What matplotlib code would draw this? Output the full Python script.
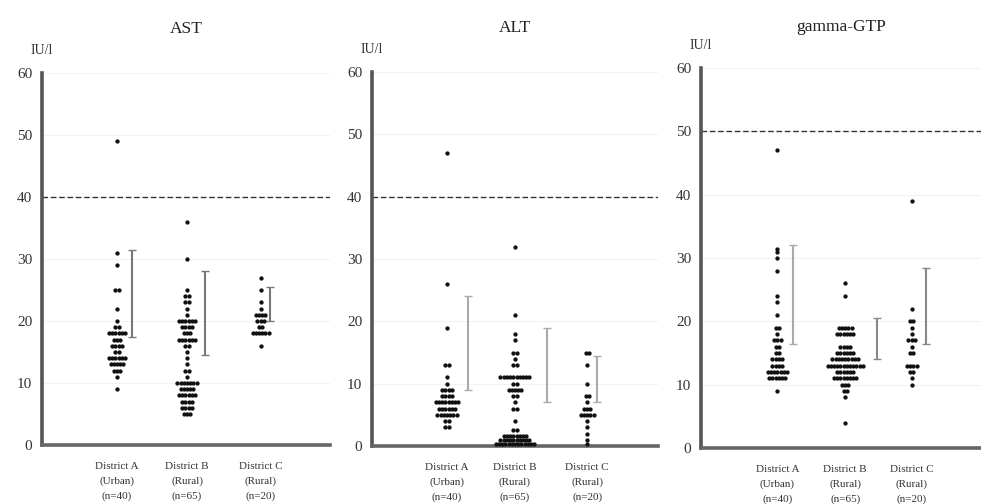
import numpy as np
import matplotlib
matplotlib.use("Agg")
import matplotlib.pyplot as plt
from collections import Counter

plt.rcParams['font.family'] = ['Liberation Serif', 'DejaVu Serif']

groups = ["District A\n(Urban)\n(n=40)", "District B\n(Rural)\n(n=65)", "District C\n(Rural)\n(n=20)"]
titles = ["AST", "ALT", "gamma-GTP"]
unit_label = "IU/l"
yticks = [0, 10, 20, 30, 40, 50, 60]
ref_lines = [40, 40, 50]

ast_a = [49, 31, 29, 25, 25, 22, 20, 19, 19] + [18]*6 + [17]*3 + [16]*4 + [15]*2 + [14]*6 + [13]*5 + [12]*3 + [11, 9]
ast_b = [36, 30, 25, 24, 24, 23, 23, 22, 21] + [20]*6 + [19]*4 + [18]*3 + [17]*6 + [16]*2 + [15, 14, 13, 12, 12, 11] + [10]*7 + [9]*5 + [8]*6 + [7]*4 + [6]*4 + [5]*3
ast_c = [27, 25, 23, 22] + [21]*4 + [20]*3 + [19]*2 + [18]*6 + [16]

alt_a = [47, 26, 19, 13, 13, 11, 10] + [9]*4 + [8]*4 + [7]*8 + [6]*6 + [5]*7 + [4, 4, 3, 3]
alt_b = [32, 21, 18, 17, 15, 15, 14, 13, 13] + [11]*10 + [10]*2 + [9]*5 + [8]*2 + [7] + [6]*2 + [4] + [2.5]*2 + [1.6]*8 + [0.9]*10 + [0.3]*13
alt_c = [15, 15, 13, 10, 8, 8, 7] + [6]*3 + [5]*5 + [4, 3, 2, 1, 0.3]

gtp_a = [47, 31.5, 31, 30, 28, 24, 23, 21, 19, 19, 18] + [17]*3 + [16]*2 + [15]*2 + [14]*4 + [13]*4 + [12]*7 + [11]*6 + [9]
gtp_b = [26, 24] + [19]*5 + [18]*6 + [16]*4 + [15]*6 + [14]*9 + [13]*12 + [12]*6 + [11]*8 + [10]*3 + [9]*2 + [8, 4]
gtp_c = [39, 22, 20, 20, 19, 18, 17, 17, 17, 16, 15, 15, 13, 13, 13, 13, 12, 12, 11, 10]

ast_bars = [(17.5, 31.5), (14.5, 28), (20, 25.5)]
alt_bars = [(9, 24), (7, 19), (7, 14.5)]
gtp_bars = [(16.5, 32), (14, 20.5), (16.5, 28.5)]

panels = [
    ([ast_a, ast_b, ast_c], ast_bars),
    ([alt_a, alt_b, alt_c], alt_bars),
    ([gtp_a, gtp_b, gtp_c], gtp_bars),
]

# layout (figure fractions) and per-panel geometry
rects = [
    [0.0428, 0.117, 0.2936, 0.738],
    [0.3792, 0.115, 0.2915, 0.742],
    [0.7146, 0.111, 0.2854, 0.754],
]
xlims = [(-0.07, 4.04), (-0.07, 4.01), (-0.09, 3.91)]
positions = [[1, 2, 3.05], [1, 1.97, 3.0], [1, 1.97, 2.92]]
bar_offsets = [[0.22, 0.26, 0.14], [0.3, 0.46, 0.14], [0.23, 0.46, 0.2]]
bar_colors = [['#777777', '#777777', '#777777'], ['#aaaaaa', '#aaaaaa', '#aaaaaa'], ['#aaaaaa', '#888888', '#888888']]
title_pads = [28.5, 28.5, 26.5]
dx = 0.046

fig = plt.figure(figsize=(9.81, 5.04), dpi=100)
for i, ((data, bars), title) in enumerate(zip(panels, titles)):
    ax = fig.add_axes(rects[i])
    ax.set_xlim(*xlims[i])
    ax.set_ylim(0, 60)
    for y in yticks[1:]:
        ax.axhline(y, color='#f2f2f2', lw=0.8, zorder=0)
    ax.axhline(ref_lines[i], color='#333333', lw=1.0, ls=(0, (4, 2)), zorder=1)
    for g, vals in enumerate(data):
        cnt = Counter(vals)
        xs, ys = [], []
        for v, k in cnt.items():
            offs = (np.arange(k) - (k - 1) / 2) * dx
            xs.extend(positions[i][g] + offs)
            ys.extend([v] * k)
        ax.plot(xs, ys, 'o', ms=3.1, color='#111111', mec='none', clip_on=False, zorder=3)
        lo, hi = bars[g]
        ax.errorbar([positions[i][g] + bar_offsets[i][g]], [(lo + hi) / 2], yerr=[(hi - lo) / 2],
                    fmt='none', ecolor=bar_colors[i][g], elinewidth=1.5, capsize=3, capthick=1.0, zorder=2)
    for side in ['top', 'right']:
        ax.spines[side].set_visible(False)
    ax.spines['left'].set_linewidth(2.6)
    ax.spines['left'].set_color('#555555')
    ax.spines['bottom'].set_linewidth(2.6)
    ax.spines['bottom'].set_color('#666666')
    ax.set_yticks(yticks)
    ax.set_yticklabels([str(t) for t in yticks], fontsize=11, color='#333333')
    ax.set_xticks(positions[i])
    ax.set_xticklabels(groups, fontsize=8, color='#333333', linespacing=1.75)
    ax.tick_params(axis='both', length=0)
    ax.tick_params(axis='y', pad=7)
    ax.tick_params(axis='x', pad=12)
    ax.set_title(title, fontsize=12.5, color='#222222', pad=title_pads[i])
    ax.text(0.0, 1.06, unit_label, transform=ax.transAxes, ha='center', va='center',
            fontsize=10, color='#333333')

fig.savefig("out.png", dpi=100)
